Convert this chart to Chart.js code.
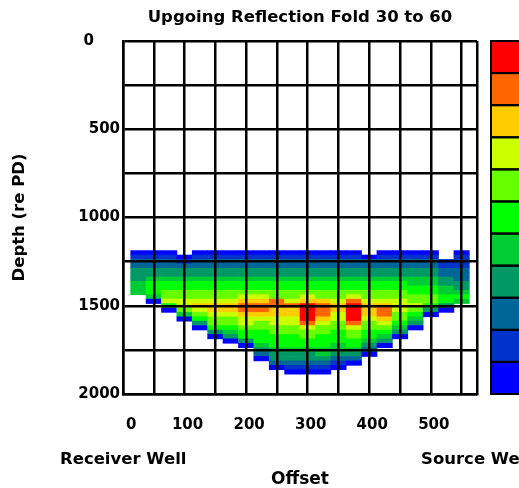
<!DOCTYPE html>
<html>
<head>
<meta charset="utf-8">
<script src="https://cdn.jsdelivr.net/npm/chart.js@4.4.0/dist/chart.umd.min.js"></script>
<style>
  html, body { margin: 0; padding: 0; background: #fff; overflow: hidden; }
</style>
</head>
<body>
<canvas id="foldChart" width="519" height="488"></canvas>
<script>
// bin centres: offset along the section (columns) and depth (rows)
const offsets = [25, 50, 75, 100, 125, 150, 175, 200, 225, 250, 275,
                 300, 325, 350, 375, 400, 425, 450, 475, 500, 525, 550];
const depths = [1200, 1225, 1250, 1275, 1300, 1325, 1350, 1375, 1400, 1425,
                1450, 1475, 1500, 1525, 1550, 1575, 1600, 1625, 1650, 1675,
                1700, 1725, 1750, 1775, 1800, 1825, 1850, 1875];

// fold class per bin, one string per offset column, top row first
// 0 = lowest class (blue) ... A = highest (red), '.' = no coverage
const foldColumns = [
  '0122333444',
  '012233455540',
  '01223345566750',
  '.012334556677640',
  '012233455667876530',
  '01223345566788766530',
  '012233455667887665430',
  '0122334556789987765530',
  '0122334556789987665554320',
  '012233455669988776655543320',
  '0122334556679887766555433210',
  '012233455678AAAA976655433210',
  '0122334556689998766555443210',
  '012233455667887766555443210',
  '012233455679AAAA9766554320',
  '.02233455667888766554320',
  '0122334556678998765430',
  '01223345566777665430',
  '012233445566765430',
  '012233445566530',
  '..112233445530',
  '011122233454'
];

const foldColors = ['#0000FF', '#0033CC', '#006699', '#009966', '#00CC33', '#00FF00',
                    '#66FF00', '#CCFF00', '#FFCC00', '#FF6600', '#FF0000'];

const offsetGrid = [0, 50, 100, 150, 200, 250, 300, 350, 400, 450, 500, 550, 575];
const offsetLabels = [0, 100, 200, 300, 400, 500];
const depthGrid = [0, 250, 500, 750, 1000, 1250, 1500, 1750, 2000];
const depthLabels = [0, 500, 1000, 1500, 2000];

// each bin becomes a floating bar spanning its depth interval
const half = (depths[1] - depths[0]) / 2;
const cells = [];
const cellColors = [];
foldColumns.forEach((col, i) => {
  for (let j = 0; j < col.length; j++) {
    if (col[j] === '.') continue;
    cells.push({ x: offsets[i], y: [depths[j] - half, depths[j] + half] });
    cellColors.push(foldColors[parseInt(col[j], 16)]);
  }
});

const FONT = '"DejaVu Sans", "Liberation Sans", sans-serif';
Chart.defaults.font.family = FONT;
Chart.defaults.font.weight = 'bold';
Chart.defaults.color = '#000';

// title over the plot, colour key on the right, well names under the axis
const extras = {
  id: 'extras',
  afterDraw(chart) {
    const { ctx, chartArea: a } = chart;
    const n = foldColors.length;
    const h = (a.bottom - a.top) / n;
    const x0 = a.right + 14;
    const w = chart.width - x0 + 6;
    ctx.save();
    for (let i = 0; i < n; i++) {
      ctx.fillStyle = foldColors[n - 1 - i];
      ctx.fillRect(x0, a.top + i * h, w, h);
    }
    ctx.strokeStyle = '#000';
    ctx.lineWidth = 2;
    for (let i = 0; i < n; i++) ctx.strokeRect(x0, a.top + i * h, w, h);

    ctx.fillStyle = '#000';
    ctx.textBaseline = 'middle';
    ctx.textAlign = 'center';
    ctx.font = 'bold 16.5px ' + FONT;
    ctx.fillText('Upgoing Reflection Fold 30 to 60', (a.left + a.right) / 2, 18);

    ctx.textAlign = 'left';
    ctx.fillText('Receiver Well', 60, 460);
    ctx.fillText('Source Well', 421, 460);
    ctx.restore();
  }
};

const ctx = document.getElementById('foldChart').getContext('2d');
const foldChart = new Chart(ctx, {
  type: 'bar',
  data: {
    datasets: [{
      data: cells,
      backgroundColor: cellColors,
      borderWidth: 0,
      borderSkipped: false,
      barPercentage: 1,
      categoryPercentage: 1
    }]
  },
  options: {
    responsive: false,
    animation: false,
    layout: { padding: { top: 41, right: 42, left: 0, bottom: 0 } },
    plugins: {
      legend: { display: false },
      tooltip: { enabled: false },
      title: { display: false }
    },
    scales: {
      x: {
        type: 'linear',
        min: 0,
        max: 575,
        offset: false,
        afterBuildTicks: s => { s.ticks = offsetGrid.map(v => ({ value: v })); },
        afterFit: s => { s.height = 94; },
        ticks: {
          autoSkip: false,
          maxRotation: 0,
          padding: 22,
          labelOffset: 3,
          font: { size: 15, weight: 'bold' },
          callback: v => offsetLabels.includes(v) ? (v === 0 ? '  0' : String(v)) : ''
        },
        grid: { color: '#000', lineWidth: 2.5, drawTicks: false, offset: false, z: 1 },
        border: { color: '#000', width: 2.5, z: 1 },
        title: {
          display: true,
          text: 'Offset',
          font: { size: 17, weight: 'bold', lineHeight: 1 },
          padding: { top: 0, bottom: 0 }
        }
      },
      y: {
        type: 'linear',
        reverse: true,
        min: 0,
        max: 2000,
        afterBuildTicks: s => { s.ticks = depthGrid.map(v => ({ value: v })); },
        afterFit: s => { s.width = 123; },
        ticks: {
          autoSkip: false,
          padding: 3,
          font: { size: 15, weight: 'bold' },
          callback: v => depthLabels.includes(v) ? (v === 0 ? '0     ' : String(v)) : ''
        },
        grid: { color: '#000', lineWidth: 2.5, drawTicks: false, z: 1 },
        border: { color: '#000', width: 2.5, z: 1 },
        title: {
          display: true,
          text: 'Depth (re PD)',
          font: { size: 16.5, weight: 'bold' },
          padding: { top: 10, bottom: 0 }
        }
      }
    }
  },
  plugins: [extras]
});
</script>
</body>
</html>
